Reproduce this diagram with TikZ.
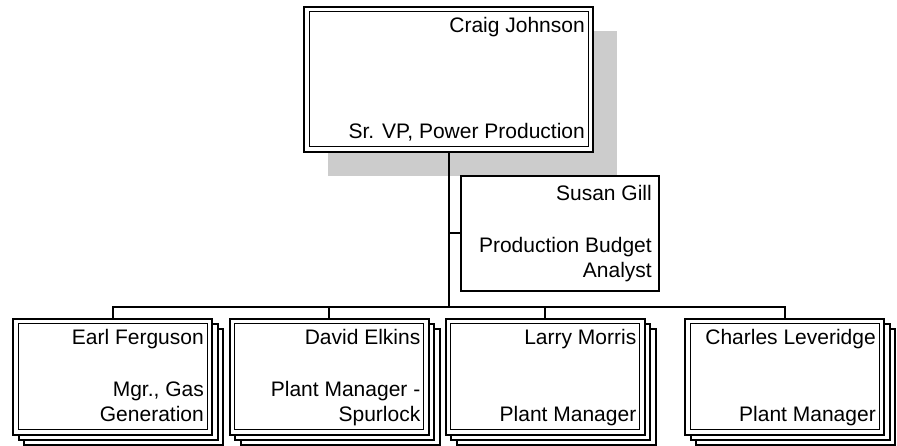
\documentclass[tikz,border=0pt]{standalone}
\usepackage{fontspec}
\setmainfont{Liberation Sans}
\usetikzlibrary{calc,positioning,shadows}
\newcommand{\twolines}[2]{\begin{tabular}[b]{@{}r@{}}#1\\#2\end{tabular}}

\begin{document}
\begin{tikzpicture}[x=1pt,y=1pt,
  box/.style={draw,line width=2pt,fill=white,inner sep=0pt,outer sep=0pt},
  txt/.style={inner sep=0pt,anchor=base east,font=\fontsize{21}{25}\selectfont},
  link/.style={line width=2pt}]
\useasboundingbox (0,0) rectangle (897,446);

\node[box,minimum width=289pt,minimum height=145pt,
  drop shadow={shadow xshift=24pt,shadow yshift=-24pt,fill=black!20,opacity=1}] (cj) at (448.5,366.5) {};
\node[box,minimum width=198pt,minimum height=115pt] (sg) at (560,212.5) {};
\foreach \n/\xc in {ef/112.5,de/329,lm/545,cl/784.5}
  \node[box,minimum width=199pt,minimum height=116pt,
    double copy shadow={shadow xshift=5.5pt,shadow yshift=-5pt}] (\n) at (\xc,69) {};
\foreach \n in {cj,ef,de,lm,cl}
  \draw[line width=1pt] ([shift={(5,-5)}]\n.north west) rectangle ([shift={(-5,5)}]\n.south east);

\coordinate (bus) at (448.5,139);
\draw[link] (cj.south) -- (bus);
\draw[link] (sg.west) -- (sg.west -| cj.south);
\draw[link] (ef.north) -- (ef.north |- bus) -- (cl.north |- bus) -- (cl.north);
\foreach \n in {de,lm}
  \draw[link] (\n.north) -- (\n.north |- bus);

\node[txt] (cjname) at ([shift={(-8,-26)}]cj.north east) {Craig Johnson};
\node[txt] (cjtitle) at ([shift={(-8,13)}]cj.south east) {Sr. VP, Power Production};
\node[txt] (sgname) at ([shift={(-7,-25)}]sg.north east) {Susan Gill};
\node[txt] (sgtitle) at ([shift={(-7,13)}]sg.south east) {\twolines{Production Budget}{Analyst}};
\node[txt] (efname) at ([shift={(-8,-26)}]ef.north east) {Earl Ferguson};
\node[txt] (eftitle) at ([shift={(-8,13)}]ef.south east) {\twolines{Mgr., Gas}{Generation}};
\node[txt] (dename) at ([shift={(-8,-26)}]de.north east) {David Elkins};
\node[txt] (detitle) at ([shift={(-8,13)}]de.south east) {\twolines{Plant Manager -}{Spurlock}};
\node[txt] (lmname) at ([shift={(-8,-26)}]lm.north east) {Larry Morris};
\node[txt] (lmtitle) at ([shift={(-8,13)}]lm.south east) {Plant Manager};
\node[txt] (clname) at ([shift={(-8,-26)}]cl.north east) {Charles Leveridge};
\node[txt] (cltitle) at ([shift={(-8,13)}]cl.south east) {Plant Manager};
\end{tikzpicture}
\end{document}
